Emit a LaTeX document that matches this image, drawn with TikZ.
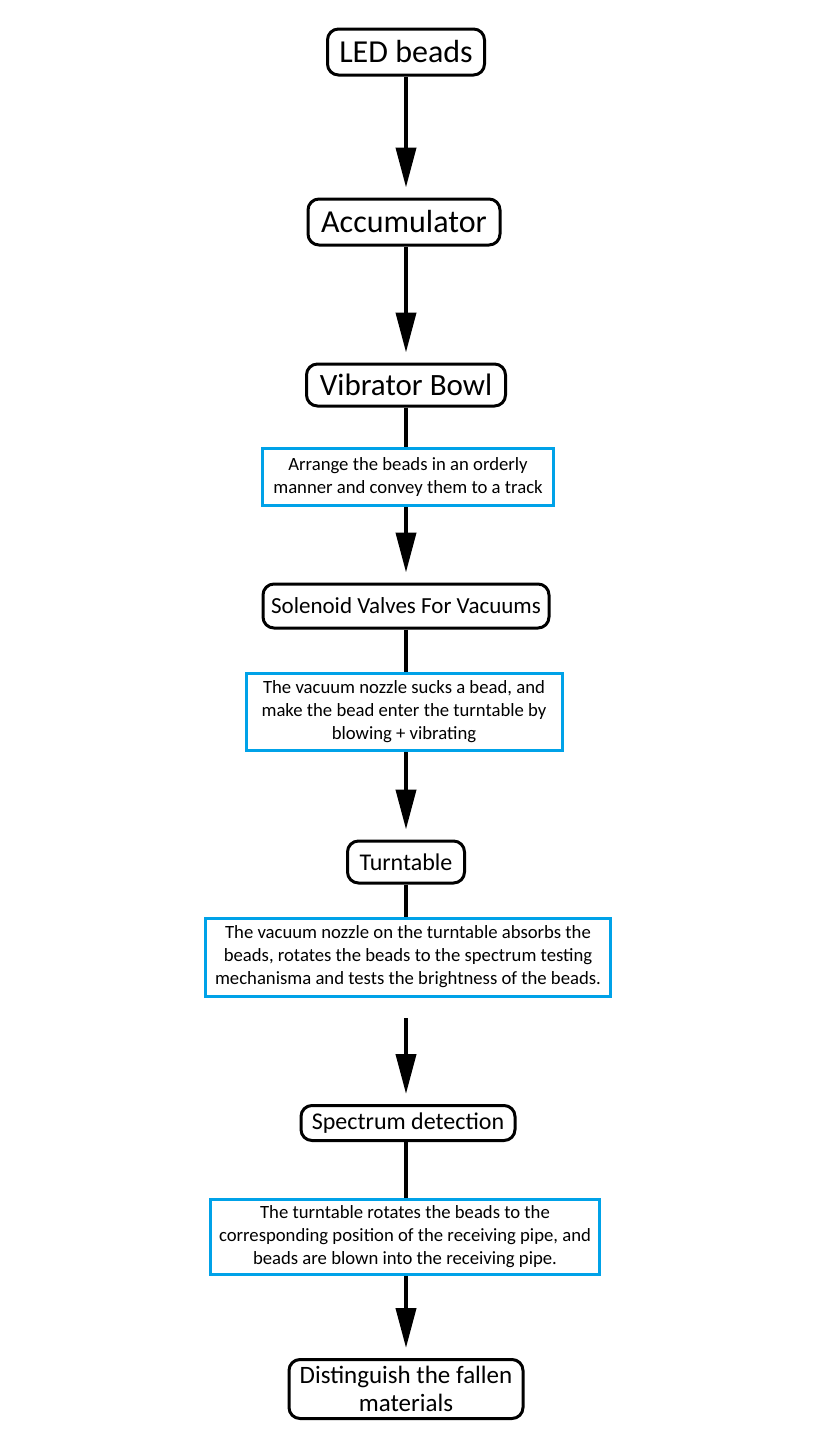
\documentclass[tikz,border=0pt]{standalone}
\usepackage{fontspec}
\setmainfont{Carlito}
\usetikzlibrary{arrows.meta}
\definecolor{boxblue}{RGB}{0, 162, 232}

\begin{document}
\begin{tikzpicture}[x=1pt, y=-1pt, >={Triangle[length=40pt, width=20pt]}]
        \tikzset{
            stage/.style={draw=black, line width=3pt, rounded corners=11pt, fill=white, align=center, inner sep=2pt},
            note/.style={draw=boxblue, line width=3pt, fill=white, align=center, inner sep=1pt, font=\fontsize{18.7}{23}\selectfont},
            flow/.style={->, line width=4pt, shorten >=10pt},
            link/.style={line width=4pt}
        }
        \useasboundingbox (0, 0) rectangle (822, 1448);

        % stages
        \node (led) at (406, 52) [stage, minimum width=157pt, minimum height=46pt, font=\fontsize{32}{36}\selectfont] {LED beads};
        \node (acc) at (404, 222) [stage, minimum width=192pt, minimum height=46pt, font=\fontsize{32}{36}\selectfont] {Accumulator};
        \node (bowl) at (406, 385) [stage, minimum width=199pt, minimum height=42pt, font=\fontsize{31}{36}\selectfont] {Vibrator Bowl};
        \node (valve) at (406, 606) [stage, minimum width=286pt, minimum height=44pt, font=\fontsize{23}{27}\selectfont] {Solenoid Valves For Vacuums};
        \node (table) at (406, 862) [stage, minimum width=117pt, minimum height=42pt, font=\fontsize{24}{28}\selectfont] {Turntable};
        \node (spec) at (408, 1123) [stage, minimum width=214pt, minimum height=35pt, font=\fontsize{24}{28}\selectfont] {Spectrum detection};
        \node (sort) at (406, 1389) [stage, minimum width=234pt, minimum height=59pt, font=\fontsize{25}{28}\selectfont] {Distinguish the fallen\\materials};

        % notes
        \node (arrange) at (408, 477) [note, minimum width=291pt, minimum height=57pt] {Arrange the beads in an orderly\\manner and convey them to a track};
        \node (suck) at (404, 712) [note, minimum width=316pt, minimum height=77pt] {The vacuum nozzle sucks a bead, and\\make the bead enter the turntable by\\blowing + vibrating};
        \node (test) at (408, 957) [note, minimum width=405pt, minimum height=78pt] {The vacuum nozzle on the turntable absorbs the\\beads, rotates the beads to the spectrum testing\\mechanisma and tests the brightness of the beads.};
        \node (blow) at (405, 1237) [note, minimum width=389pt, minimum height=75pt] {The turntable rotates the beads to the\\corresponding position of the receiving pipe, and\\beads are blown into the receiving pipe.};
        \coordinate (gap) at (406, 1018);

        % connectors
        \draw [flow] (led) -- (led |- acc.north);
        \draw [flow] (led |- acc.south) -- (led |- bowl.north);
        \draw [link] (led |- bowl.south) -- (led |- arrange.north);
        \draw [flow] (led |- arrange.south) -- (valve);
        \draw [link] (valve) -- (valve |- suck.north);
        \draw [flow] (valve |- suck.south) -- (table);
        \draw [link] (table) -- (table |- test.north);
        \draw [flow] (gap) -- (gap |- spec.north);
        \draw [link] (gap |- spec.south) -- (gap |- blow.north);
        \draw [flow] (gap |- blow.south) -- (sort);
\end{tikzpicture}
\end{document}
